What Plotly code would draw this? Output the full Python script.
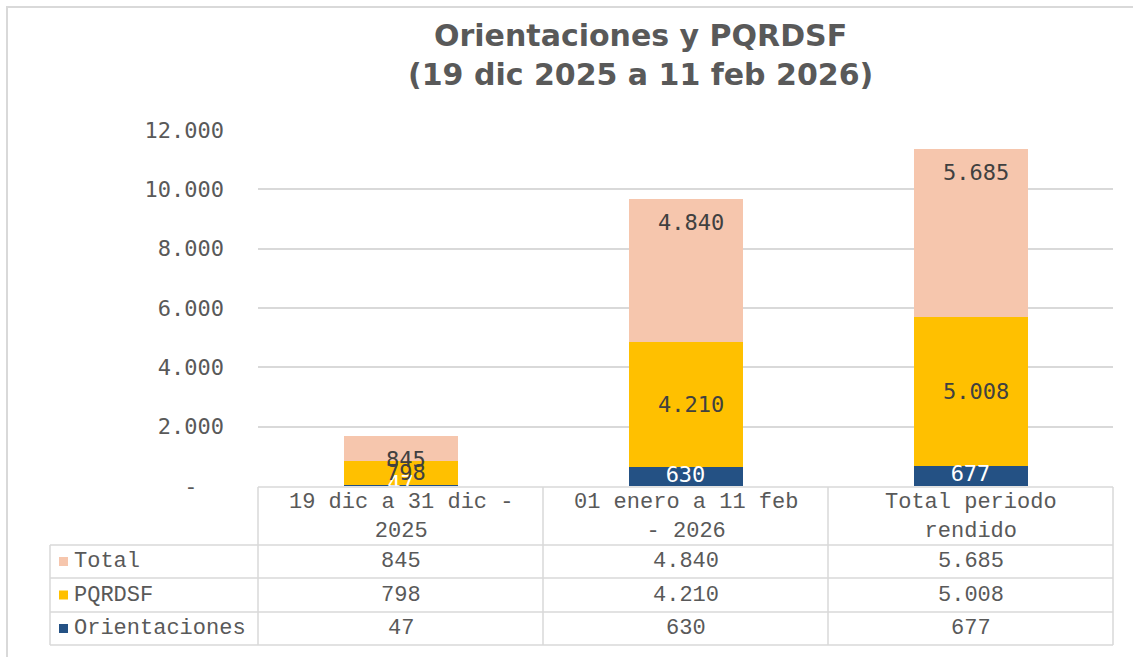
import plotly.graph_objects as go

# ---------------- data ----------------
categories = ["19 dic a 31 dic -<br>2025", "01 enero a 11 feb<br>- 2026", "Total periodo<br>rendido"]
orientaciones = [47, 630, 677]
pqrdsf = [798, 4210, 5008]
total = [845, 4840, 5685]
row_names = ["Total", "PQRDSF", "Orientaciones"]
tick_vals = [0, 2000, 4000, 6000, 8000, 10000, 12000]
tick_text = ["-\u00a0\u00a0", "2.000", "4.000", "6.000", "8.000", "10.000", "12.000"]

colors = {"Orientaciones": "#245184", "PQRDSF": "#FFC000", "Total": "#F6C6AD"}

def fmt(v):
    return f"{v:,}".replace(",", ".")

# ---------------- geometry helpers (pixels -> paper) ----------------
W, H = 1133, 657
PL, PR, PT, PB = 258, 1113, 130, 486
def fx(x):
    return (x - PL) / (PR - PL)
def fy(y):
    return (PB - y) / (PB - PT)

TXT = "#595959"
LBL = "#404040"
GRID = "#d9d9d9"
MONO_SANS = "DejaVu Sans Mono"
MONO_SERIF = "Liberation Mono"

fig = go.Figure()
fig.add_trace(go.Bar(x=categories, y=orientaciones, name="Orientaciones",
                     marker=dict(color=colors["Orientaciones"], line=dict(width=0))))
fig.add_trace(go.Bar(x=categories, y=pqrdsf, name="PQRDSF",
                     marker=dict(color=colors["PQRDSF"], line=dict(width=0))))
fig.add_trace(go.Bar(x=categories, y=total, name="Total",
                     marker=dict(color=colors["Total"], line=dict(width=0))))

# Orientaciones labels (clipped by plot area like the original)
fig.add_trace(go.Scatter(x=categories, y=[v / 2 for v in orientaciones], mode="text",
                         text=[fmt(v) for v in orientaciones], textposition="middle center",
                         textfont=dict(family=MONO_SANS, size=22, color="white"),
                         cliponaxis=True, hoverinfo="skip"))

annotations = []
shapes = []

# PQRDSF labels (centered) and Total labels (inside end)
for i, c in enumerate(categories):
    annotations.append(dict(x=c, xref="x", y=orientaciones[i] + pqrdsf[i] / 2, yref="y",
                            text=fmt(pqrdsf[i]), showarrow=False, xshift=5,
                            font=dict(family=MONO_SANS, size=22, color=LBL)))
    top = orientaciones[i] + pqrdsf[i] + total[i]
    annotations.append(dict(x=c, xref="x", y=top, yref="y", yshift=-24,
                            text=fmt(total[i]), showarrow=False, xshift=5,
                            font=dict(family=MONO_SANS, size=22, color=LBL)))

# Title
annotations.append(dict(x=fx(640), y=fy(55), xref="paper", yref="paper",
                        text="<b>Orientaciones y PQRDSF<br>(19 dic 2025 a 11 feb 2026)</b>",
                        showarrow=False, xanchor="center", yanchor="middle",
                        font=dict(family="DejaVu Sans", size=30, color=TXT)))

# ---------------- data table ----------------
col_edges = [258, 543, 828, 1113]
row_edges = [487, 545, 578, 612, 645]
left_x = 50
line = dict(color=GRID, width=1.5)

# horizontal lines
shapes.append(dict(type="line", xref="paper", yref="paper", x0=fx(col_edges[0]), x1=fx(col_edges[-1]),
                   y0=fy(row_edges[0]), y1=fy(row_edges[0]), line=line))
for ye in row_edges[1:]:
    shapes.append(dict(type="line", xref="paper", yref="paper", x0=fx(left_x), x1=fx(col_edges[-1]),
                       y0=fy(ye), y1=fy(ye), line=line))
# vertical lines
for xe in col_edges:
    shapes.append(dict(type="line", xref="paper", yref="paper", x0=fx(xe), x1=fx(xe),
                       y0=fy(row_edges[0]), y1=fy(row_edges[-1]), line=line))
shapes.append(dict(type="line", xref="paper", yref="paper", x0=fx(left_x), x1=fx(left_x),
                   y0=fy(row_edges[1]), y1=fy(row_edges[-1]), line=line))

# header labels
for c in categories:
    annotations.append(dict(x=c, xref="x", y=fy((row_edges[0] + row_edges[1]) / 2 + 1), yref="paper",
                            text=c, showarrow=False, yanchor="middle",
                            font=dict(family=MONO_SERIF, size=22, color=TXT)))

row_values = {"Total": total, "PQRDSF": pqrdsf, "Orientaciones": orientaciones}
for r, name in enumerate(row_names):
    yc = (row_edges[r + 1] + row_edges[r + 2]) / 2
    shapes.append(dict(type="rect", xref="paper", yref="paper", x0=fx(59), x1=fx(68),
                       y0=fy(yc - 4.5), y1=fy(yc + 4.5), fillcolor=colors[name], line=dict(width=0)))
    annotations.append(dict(x=fx(72), y=fy(yc), xref="paper", yref="paper", text=name,
                            showarrow=False, xanchor="left", yanchor="middle",
                            font=dict(family=MONO_SERIF, size=22, color=TXT)))
    for i, c in enumerate(categories):
        annotations.append(dict(x=c, xref="x", y=fy(yc), yref="paper", text=fmt(row_values[name][i]),
                                showarrow=False, yanchor="middle",
                                font=dict(family=MONO_SERIF, size=22, color=TXT)))

# outer chart border (only top & left visible in the crop)
shapes.append(dict(type="rect", xref="paper", yref="paper", x0=fx(7), x1=fx(1145),
                   y0=fy(7), y1=fy(670), line=dict(color=GRID, width=2), fillcolor="rgba(0,0,0,0)"))

fig.update_layout(
    width=W, height=H,
    margin=dict(l=PL, r=W - PR, t=PT, b=H - PB, pad=0),
    barmode="stack", bargap=0.6,
    showlegend=False,
    plot_bgcolor="white", paper_bgcolor="white",
    separators=",.",
    annotations=annotations, shapes=shapes,
    xaxis=dict(showticklabels=False, showgrid=False, showline=False, zeroline=False,
               range=[-0.5, 2.5], fixedrange=True),
    yaxis=dict(range=[0, 12000], tickvals=tick_vals, ticktext=tick_text,
               showgrid=True, gridcolor=GRID, gridwidth=1.5, zeroline=False, showline=False,
               ticks="", ticklabelstandoff=33,
               tickfont=dict(family=MONO_SANS, size=22, color=TXT)),
)

fig.write_html("out.html", config={"displayModeBar": False},
               post_script="document.body.style.margin='0';document.body.style.overflow='hidden';")
